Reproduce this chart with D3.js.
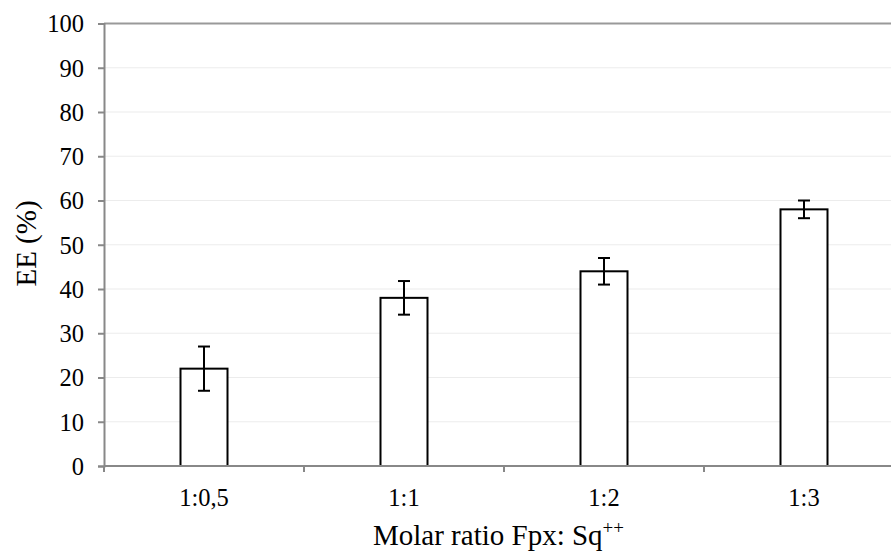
<!DOCTYPE html>
<html><head><meta charset="utf-8">
<script src="https://cdn.jsdelivr.net/npm/d3@7"></script>
<style>body{margin:0;background:#fff}svg{display:block}text{font-family:"Liberation Serif","Times New Roman",serif;fill:#000}</style>
</head><body><svg id="c" width="891" height="551"></svg>
<script>
const categories = ["1:0,5", "1:1", "1:2", "1:3"];
const values = [22, 38, 44, 58];
const errors = [5, 3.8, 3, 2];
const yTicks = [0,10,20,30,40,50,60,70,80,90,100];

const svg = d3.select("#c");
const x = d3.scaleBand().domain(categories).range([104, 904]).paddingInner(0).paddingOuter(0);
const y = d3.scaleLinear().domain([0, 100]).range([466, 23.5]);
const barW = 47;

// gridlines
svg.append("g").selectAll("line").data(yTicks.filter(d => d > 0 && d < 100)).join("line")
  .attr("x1", 104).attr("x2", 891).attr("y1", d => y(d)).attr("y2", d => y(d))
  .attr("stroke", "#ececec").attr("stroke-width", 1.2);
// top line
svg.append("line").attr("x1", 104).attr("x2", 891).attr("y1", y(100)).attr("y2", y(100))
  .attr("stroke", "#999").attr("stroke-width", 2);

// y axis
const ya = svg.append("g").attr("transform", "translate(104,0)")
  .call(d3.axisLeft(y).tickValues(yTicks).tickSize(6).tickPadding(14));
ya.attr("font-family", null).attr("font-size", null);
ya.select(".domain").attr("stroke", "#888").attr("stroke-width", 2);
ya.selectAll(".tick line").attr("stroke", "#888").attr("stroke-width", 2);
ya.selectAll("text").style("font-size", "24.5px").style("font-family", "Liberation Serif").attr("dy", "0.34em");

// bars
svg.append("g").selectAll("rect").data(values).join("rect")
  .attr("x", (d, i) => x(categories[i]) + x.bandwidth() / 2 - barW / 2)
  .attr("y", d => y(d)).attr("width", barW).attr("height", d => y(0) - y(d))
  .attr("fill", "#fff").attr("stroke", "#000").attr("stroke-width", 2);

// x axis
svg.append("line").attr("x1", 104).attr("x2", 891).attr("y1", y(0)).attr("y2", y(0))
  .attr("stroke", "#888").attr("stroke-width", 2);
svg.append("g").selectAll("line").data(categories).join("line")
  .attr("x1", d => x(d)).attr("x2", d => x(d)).attr("y1", y(0)).attr("y2", y(0) + 6)
  .attr("stroke", "#888").attr("stroke-width", 2);
svg.append("g").selectAll("text").data(categories).join("text")
  .attr("x", d => x(d) + x.bandwidth() / 2).attr("y", 506).attr("text-anchor", "middle")
  .style("font-size", "24.5px").text(d => d);

// error bars
const eg = svg.append("g").attr("stroke", "#000").attr("stroke-width", 2);
values.forEach((v, i) => {
  const cx = x(categories[i]) + x.bandwidth() / 2;
  eg.append("line").attr("x1", cx).attr("x2", cx).attr("y1", y(v + errors[i])).attr("y2", y(v - errors[i]));
  [v + errors[i], v - errors[i]].forEach(e => {
    eg.append("line").attr("x1", cx - 6).attr("x2", cx + 6).attr("y1", y(e)).attr("y2", y(e));
  });
});

// titles
const xt = svg.append("text").attr("x", 373).attr("y", 545).attr("text-anchor", "start").style("font-size", "29px");
xt.append("tspan").text("Molar ratio Fpx: Sq");
xt.append("tspan").attr("dy", -11).style("font-size", "19px").text("++");
svg.append("text").attr("transform", "translate(36,243.5) rotate(-90)").attr("text-anchor", "middle")
  .style("font-size", "29px").text("EE (%)");
</script></body></html>
